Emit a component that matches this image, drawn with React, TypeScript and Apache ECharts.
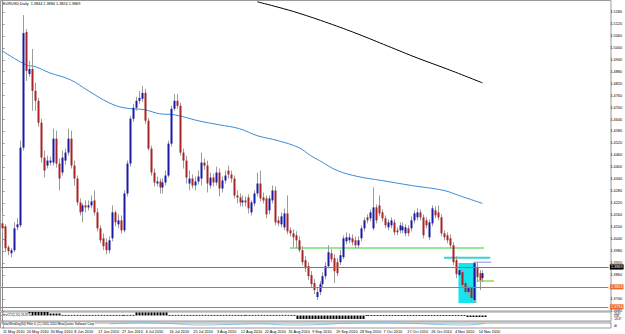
import React, { useEffect, useRef } from "react";
import * as echarts from "echarts";

const tickLabels = ["11 May 2010","20 May 2010","30 May 2010","8 Jun 2010","17 Jun 2010","27 Jun 2010","6 Jul 2010","16 Jul 2010","25 Jul 2010","3 Aug 2010","12 Aug 2010","22 Aug 2010","31 Aug 2010","9 Sep 2010","19 Sep 2010","28 Sep 2010","7 Oct 2010","17 Oct 2010","26 Oct 2010","4 Nov 2010","14 Nov 2010"];
const SLOTS = 205;

const open = [1.4119,1.4104,1.3999,1.3969,1.3984,1.4099,1.4109,1.4499,1.5079,1.4869,
1.4894,1.4784,1.4734,1.4624,1.4449,1.4409,1.4424,1.4424,1.4544,1.4419,
1.4374,1.4434,1.4474,1.4544,1.4409,1.4344,1.4224,1.4179,1.4209,1.4199,
1.4209,1.4234,1.4174,1.4094,1.4044,1.4024,1.3984,1.4044,1.4174,1.4114,
1.4134,1.4084,1.4269,1.4419,1.4644,1.4699,1.4734,1.4744,1.4774,1.4634,
1.4494,1.4374,1.4319,1.4329,1.4299,1.4324,1.4359,1.4519,1.4694,1.4734,
1.4709,1.4474,1.4434,1.4319,1.4344,1.4309,1.4329,1.4344,1.4424,1.4409,
1.4309,1.4349,1.4324,1.4374,1.4294,1.4334,1.4384,1.4364,1.4344,1.4259,
1.4249,1.4224,1.4234,1.4249,1.4174,1.4219,1.4269,1.4319,1.4249,1.4244,
1.4184,1.4234,1.4284,1.4134,1.4114,1.4099,1.4169,1.4084,1.4069,1.4059,
1.4034,1.3984,1.3934,1.3904,1.3859,1.3819,1.3749,1.3774,1.3814,1.3854,
1.3904,1.3969,1.3944,1.3924,1.3924,1.3949,1.4029,1.4034,1.4044,1.4034,
1.4009,1.4044,1.4094,1.4149,1.4144,1.4094,1.4199,1.4209,1.4174,1.4144,
1.4099,1.4109,1.4124,1.4084,1.4084,1.4084,1.4069,1.4094,1.4094,1.4134,
1.4149,1.4174,1.4149,1.4134,1.4049,1.4119,1.4184,1.4174,1.4149,1.4069,
1.4059,1.4044,1.4009,1.3934,1.3859,1.3874,1.3819,1.3774,1.3794,1.3734,
1.3894,1.3869,1.3844];
const close = [1.4094,1.3994,1.3979,1.3984,1.4094,1.4114,1.4499,1.5074,1.4884,1.4894,
1.4784,1.4734,1.4624,1.4449,1.4384,1.4434,1.4434,1.4544,1.4419,1.4344,
1.4449,1.4474,1.4544,1.4409,1.4344,1.4224,1.4174,1.4209,1.4199,1.4209,
1.4229,1.4174,1.4094,1.4034,1.4004,1.3984,1.4034,1.4174,1.4124,1.4134,
1.4084,1.4269,1.4419,1.4644,1.4699,1.4734,1.4749,1.4774,1.4634,1.4494,
1.4374,1.4324,1.4329,1.4299,1.4324,1.4359,1.4519,1.4694,1.4734,1.4709,
1.4474,1.4434,1.4349,1.4344,1.4309,1.4329,1.4354,1.4424,1.4409,1.4319,
1.4349,1.4324,1.4374,1.4294,1.4334,1.4359,1.4364,1.4344,1.4259,1.4249,
1.4224,1.4234,1.4224,1.4194,1.4224,1.4269,1.4319,1.4244,1.4234,1.4164,
1.4244,1.4284,1.4124,1.4119,1.4154,1.4169,1.4079,1.4069,1.4049,1.4034,
1.3984,1.3924,1.3894,1.3854,1.3814,1.3784,1.3774,1.3814,1.3854,1.3904,
1.3974,1.3939,1.3879,1.3869,1.3959,1.4044,1.4049,1.4049,1.4024,1.4009,
1.4034,1.4094,1.4134,1.4134,1.4174,1.4199,1.4134,1.4169,1.4144,1.4109,
1.4124,1.4134,1.4074,1.4074,1.4109,1.4104,1.4099,1.4069,1.4134,1.4169,
1.4174,1.4149,1.4059,1.4109,1.4124,1.4194,1.4159,1.4149,1.4069,1.4049,
1.4034,1.4009,1.3924,1.3864,1.3884,1.3809,1.3774,1.3794,1.3744,1.3919,
1.3849,1.3834,1.3869];
const high = [1.4164,1.4114,1.4009,1.3994,1.4124,1.4144,1.4534,1.5164,1.5094,1.4934,
1.4994,1.4824,1.4749,1.4644,1.4484,1.4459,1.4454,1.4594,1.4584,1.4444,
1.4484,1.4494,1.4594,1.4584,1.4434,1.4359,1.4244,1.4219,1.4234,1.4234,
1.4259,1.4284,1.4194,1.4109,1.4069,1.4044,1.4054,1.4209,1.4184,1.4164,
1.4159,1.4284,1.4434,1.4659,1.4719,1.4754,1.4784,1.4809,1.4794,1.4649,
1.4509,1.4394,1.4354,1.4344,1.4344,1.4384,1.4534,1.4709,1.4769,1.4769,
1.4724,1.4494,1.4459,1.4384,1.4364,1.4354,1.4384,1.4474,1.4444,1.4434,
1.4374,1.4369,1.4404,1.4394,1.4354,1.4384,1.4409,1.4384,1.4359,1.4284,
1.4269,1.4259,1.4254,1.4264,1.4234,1.4284,1.4374,1.4384,1.4274,1.4259,
1.4259,1.4309,1.4304,1.4154,1.4174,1.4194,1.4259,1.4099,1.4089,1.4079,
1.4054,1.4004,1.3954,1.3924,1.3879,1.3839,1.3794,1.3829,1.3874,1.3924,
1.4009,1.3989,1.3964,1.3944,1.3984,1.4059,1.4074,1.4069,1.4064,1.4054,
1.4054,1.4109,1.4149,1.4164,1.4189,1.4299,1.4214,1.4259,1.4189,1.4159,
1.4139,1.4149,1.4139,1.4099,1.4124,1.4124,1.4114,1.4109,1.4154,1.4184,
1.4194,1.4189,1.4164,1.4149,1.4139,1.4209,1.4204,1.4209,1.4164,1.4084,
1.4074,1.4064,1.4024,1.3954,1.3904,1.3889,1.3834,1.3809,1.3809,1.3924,
1.3924,1.3884,1.3884];
const low = [1.4074,1.3974,1.3959,1.3949,1.3974,1.4084,1.4099,1.4484,1.4834,1.4854,
1.4684,1.4684,1.4604,1.4424,1.4349,1.4394,1.4409,1.4409,1.4399,1.4284,
1.4359,1.4414,1.4459,1.4394,1.4309,1.4209,1.4159,1.4124,1.4174,1.4184,
1.4194,1.4159,1.4079,1.4019,1.3984,1.3964,1.3969,1.4029,1.4104,1.4094,
1.4069,1.4074,1.4254,1.4404,1.4629,1.4684,1.4719,1.4729,1.4619,1.4484,
1.4359,1.4304,1.4304,1.4269,1.4269,1.4309,1.4349,1.4504,1.4684,1.4694,
1.4459,1.4394,1.4319,1.4284,1.4294,1.4284,1.4314,1.4309,1.4389,1.4274,
1.4294,1.4304,1.4309,1.4254,1.4274,1.4319,1.4344,1.4324,1.4244,1.4219,
1.4204,1.4204,1.4204,1.4169,1.4159,1.4204,1.4254,1.4229,1.4219,1.4144,
1.4164,1.4219,1.4109,1.4104,1.4099,1.4084,1.4064,1.4054,1.3999,1.3994,
1.3974,1.3909,1.3874,1.3834,1.3799,1.3764,1.3734,1.3759,1.3799,1.3839,
1.3894,1.3924,1.3819,1.3854,1.3909,1.3939,1.4014,1.4019,1.4009,1.3994,
1.3994,1.4029,1.4079,1.4119,1.4129,1.4084,1.4119,1.4154,1.4129,1.4094,
1.4084,1.4094,1.4059,1.4059,1.4069,1.4069,1.4054,1.4054,1.4079,1.4119,
1.4134,1.4134,1.4044,1.4094,1.4034,1.4104,1.4144,1.4134,1.4054,1.4034,
1.4019,1.3994,1.3909,1.3844,1.3844,1.3794,1.3759,1.3754,1.3724,1.3719,
1.3824,1.3784,1.3824];

const maBlueIdx = [0,8,11,16,23,29,36,41,48,53,58,66,73,80,86,93,100,104,107,113,120,128,138,149,154,162];
const maBlueVal = [1.4984,1.4914,1.4906,1.4874,1.4839,1.4784,1.4724,1.4699,1.4689,1.4669,1.4664,1.4634,1.4614,1.4594,1.4559,1.4534,1.4499,1.4459,1.4434,1.4384,1.4354,1.4334,1.4309,1.4284,1.4259,1.4219];
const maBlackIdx = [86,93,100,110,120,130,140,150,162];
const maBlackVal = [1.5231,1.5204,1.5174,1.5124,1.5069,1.5009,1.4949,1.4894,1.4824];

// EnvCCI histogram (one value per bar)
const envCci = [0.5,0.5,0.5,0.5,0.5,0.5,0.5,0.5,0.5,
3.5,3.5,3.5,3.5,3.5,3.5,3.5,
2,2,2,2,
0.6,0.6,0.6,0.6,0.6,0.6,0.6,0.6,0.6,0.6,0.6,0.6,0.6,0.6,0.6,0.6,0.6,0.6,0.6,0.6,0.6,0.6,0.6,0.6,0.6,
3,3,3,3,3,3,3,3,3,3,3,
0.6,0.6,0.6,0.6,0.6,0.6,0.6,0.6,0.6,0.6,0.6,0.6,0.6,0.6,0.6,0.6,0.6,0.6,0.6,0.6,0.6,0.6,0.6,0.6,0.6,0.6,0.6,0.6,0.6,0.6,0.6,0.6,0.6,0.6,0.6,0.6,0.6,0.6,0.6,0.6,0.6,0.6,0.6,
-3.5,-3.5,-3.5,-3.5,-3.5,-3.5,-3.5,-3.5,-3.5,-3.5,-3.5,-3.5,-3.5,-3.5,-3.5,-3.5,-3.5,-3.5,-3.5,-3.5,-3.5,-3.5,-3.5,
0.4,0.4,0.4,0.4,0.4,0.4,0.4,0.4,0.4,0.4,0.4,0.4,0.4,0.4,0.4,0.4,0.4,0.4,0.4,0.4,0.4,0.4,0.4,0.4,0.4,0.4,0.4,0.4,
0.4,0.4,0.4,0.4,0.4,0.4,
-1.5,-1.5,-1.5,-1.5,-1.5,-1.5,-1.5];

// Solar wind line in the bottom window (bar index, value 0-100)
const windIdx = [36,46,56,66,76,86,97,107,117,127,137,147,155,162];
const windVal = [67,88,75,50,58,67,50,58,83,87,78,58,50,75];

const orangeLevels = [1.3944, 1.3824, 1.3734];
const bidLevel = 1.3869;
const greenLine = { from: 97, to: 162.5, price: 1.3995 };
const cyanLine = { from: 149, to: 164.6, price: 1.3946 };
const purpleLine = { from: 158.9, to: 165, price: 1.3924 };
const limeLine = { from: 160.2, to: 165.9, price: 1.3829 };
const cyanBox = { from: 153.9, to: 159.9, top: 1.3920, bottom: 1.3719 };

const titleText = "EURUSD,Daily  1.3844 1.3884 1.3824 1.3869";

const BLUE = "#1a1aa6";
const RED = "#a82424";
const FS = 3.8;
const FONT = "Liberation Sans";

export default function App() {
  const ref = useRef<HTMLDivElement>(null);
  useEffect(() => {
    if (!ref.current) return;
    const chart = echarts.init(ref.current, undefined, { renderer: "svg" });
    const candles = open.map((o, i) => [i, o, close[i], low[i], high[i]]);
    const cats = Array.from({ length: SLOTS }, (_, i) => String(i));
    const seg = (s: { from: number; to: number; price: number }) => [[s.from, s.price], [s.to, s.price]];
    const grids = [
      { left: 1, right: 14, top: -1.2, height: 312 },
      { left: 1, right: 14, top: 312, height: 9 },
      { left: 1, right: 14, top: 322, height: 6 },
    ];
    const option: any = {
      animation: false,
      backgroundColor: "#ffffff",
      textStyle: { fontFamily: FONT },
      grid: grids,
      xAxis: [
        { type: "value", gridIndex: 0, min: -0.5, max: SLOTS - 0.5, show: false },
        { type: "value", gridIndex: 1, min: -0.5, max: SLOTS - 0.5, show: false },
        {
          type: "category", gridIndex: 2, data: cats, boundaryGap: true,
          axisLine: { show: false },
          axisTick: { show: false },
          axisLabel: {
            interval: (i: number) => i % 8 === 0 && i / 8 < tickLabels.length,
            formatter: (_v: string, i: number) => tickLabels[i / 8] || "",
            fontSize: FS, color: "#000", margin: 1.5, align: "left", fontFamily: FONT,
          },
        },
        { type: "value", gridIndex: 2, min: -0.5, max: SLOTS - 0.5, show: false },
      ],
      yAxis: [
        {
          type: "value", gridIndex: 0, position: "right", min: 1.368, max: 1.524, interval: 0.006,
          splitLine: { show: false },
          axisLine: { show: true, lineStyle: { color: "#8c8c8c" } },
          axisTick: { show: true, length: 2, lineStyle: { color: "#8c8c8c" } },
          axisLabel: { showMaxLabel: false, fontSize: FS, color: "#000", margin: 2, fontFamily: FONT, formatter: (v: number) => v.toFixed(4) },
        },
        { type: "value", gridIndex: 1, position: "right", min: -5.5, max: 3.5, axisLine: { show: true, lineStyle: { color: "#8c8c8c" } }, axisLabel: { show: false }, axisTick: { show: false }, splitLine: { show: false } },
        { type: "value", gridIndex: 2, position: "right", min: 0, max: 100, axisLine: { show: true, lineStyle: { color: "#8c8c8c" } }, axisLabel: { show: false }, axisTick: { show: false }, splitLine: { show: false } },
      ],
      series: [
        {
          type: "line", xAxisIndex: 0, yAxisIndex: 0, data: [], silent: true,
          markLine: {
            symbol: "none", silent: true,
            data: [
              ...orangeLevels.map((p) => ({ yAxis: p, lineStyle: { color: "#e06a2c", width: 1, type: "solid" }, label: { show: true, position: "end", distance: 1.5, formatter: p.toFixed(4), color: "#ffffff", backgroundColor: "#e86a2c", fontSize: FS, padding: [0.5, 1], fontFamily: FONT } })),
              { yAxis: bidLevel, lineStyle: { color: "#7a7a7a", width: 1, type: "solid" }, label: { show: true, position: "end", distance: 1.5, formatter: bidLevel.toFixed(4), color: "#ffffff", backgroundColor: "#000000", fontSize: FS, padding: [0.5, 1], fontFamily: FONT } },
            ],
          },
          markArea: {
            silent: true,
            itemStyle: { color: "#18e4ee", opacity: 1 },
            data: [[{ xAxis: cyanBox.from, yAxis: cyanBox.top }, { xAxis: cyanBox.to, yAxis: cyanBox.bottom }]],
          },
          z: 1,
        },
        { type: "line", xAxisIndex: 0, yAxisIndex: 0, data: seg(greenLine), symbol: "none", lineStyle: { color: "#96e896", width: 2 }, z: 2 },
        { type: "line", xAxisIndex: 0, yAxisIndex: 0, data: seg(cyanLine), symbol: "none", lineStyle: { color: "#3ccfd6", width: 2 }, z: 2 },
        { type: "line", xAxisIndex: 0, yAxisIndex: 0, data: seg(purpleLine), symbol: "none", lineStyle: { color: "#8a8af0", width: 1 }, z: 2 },
        { type: "line", xAxisIndex: 0, yAxisIndex: 0, data: seg(limeLine), symbol: "none", lineStyle: { color: "#b4e07c", width: 2 }, z: 2 },
        {
          type: "line", xAxisIndex: 0, yAxisIndex: 0, symbol: "none", smooth: 0.4,
          data: maBlueIdx.map((x, k) => [x, maBlueVal[k]]), lineStyle: { color: "#3a8cd6", width: 1 }, z: 3,
        },
        {
          type: "line", xAxisIndex: 0, yAxisIndex: 0, symbol: "none", smooth: 0.4,
          data: maBlackIdx.map((x, k) => [x, maBlackVal[k]]), lineStyle: { color: "#000000", width: 1 }, z: 3,
        },
        {
          type: "custom", xAxisIndex: 0, yAxisIndex: 0, data: candles, z: 4,
          encode: { x: 0, y: [1, 2, 3, 4] },
          renderItem: (_p: any, api: any) => {
            const i = api.value(0), o = api.value(1), c = api.value(2), l = api.value(3), h = api.value(4);
            const po = api.coord([i, o]), pc = api.coord([i, c]), ph = api.coord([i, h]), pl = api.coord([i, l]);
            const x = Math.round(po[0]) + 0.5;
            const top = Math.min(po[1], pc[1]);
            const bh = Math.max(1, Math.abs(po[1] - pc[1]));
            return {
              type: "group",
              children: [
                { type: "line", shape: { x1: x, y1: ph[1], x2: x, y2: pl[1] }, style: { stroke: "#9c9c9c", lineWidth: 1 } },
                { type: "rect", shape: { x: x - 1, y: top, width: 2, height: bh }, style: { fill: c >= o ? BLUE : RED } },
              ],
            };
          },
        },
        {
          type: "custom", xAxisIndex: 1, yAxisIndex: 1, data: envCci.map((v, i) => [i, v]), z: 4,
          encode: { x: 0, y: 1 },
          renderItem: (_p: any, api: any) => {
            const i = api.value(0), v = api.value(1);
            const p0 = api.coord([i, 0]), p1 = api.coord([i, v]);
            const x = Math.round(p0[0]) - 0.5;
            return { type: "rect", shape: { x, y: Math.min(p0[1], p1[1]), width: 2, height: Math.max(0.8, Math.abs(p1[1] - p0[1])) }, style: { fill: "#000000" } };
          },
        },
        {
          type: "line", xAxisIndex: 3, yAxisIndex: 2, symbol: "none", smooth: 0.5,
          data: windIdx.map((x, k) => [x, windVal[k]]), lineStyle: { color: "#8fc0e6", width: 1 }, z: 3,
          markLine: { symbol: "none", silent: true, label: { show: false }, lineStyle: { color: "#9a9a9a", type: [1, 1], width: 1 }, data: [{ yAxis: 80 }] },
        },
        { type: "line", xAxisIndex: 2, yAxisIndex: 2, data: [], silent: true },
      ],
      graphic: [
        { type: "rect", shape: { x: 0.5, y: 0.5, width: 610.5, height: 310.5 }, style: { fill: "none", stroke: "#9a9a9a", lineWidth: 1 }, silent: true },
        { type: "rect", shape: { x: 0.5, y: 312, width: 610.5, height: 9 }, style: { fill: "none", stroke: "#9a9a9a", lineWidth: 1 }, silent: true },
        { type: "rect", shape: { x: 0.5, y: 322, width: 610.5, height: 6 }, style: { fill: "none", stroke: "#9a9a9a", lineWidth: 1 }, silent: true },
        { type: "text", x: 3, y: 2, style: { text: titleText, fontSize: FS, fill: "#000", fontFamily: FONT } },
        { type: "text", x: 2, y: 313, style: { text: "EnvCCI(1,20) 26.8734", fontSize: 3, fill: "#000", backgroundColor: "#ffffff", fontFamily: FONT }, z: 10 },
        { type: "text", x: 2, y: 322.6, style: { text: "SolarWindJoy(60) Filler 4, (C) 2001-2010 MetaQuotes Software Corp.", fontSize: 3, fill: "#000", backgroundColor: "#ffffff", fontFamily: FONT }, z: 10 },
        { type: "text", x: 614, y: 312.5, style: { text: "26.87", fontSize: 2.6, fill: "#000", fontFamily: FONT } },
        { type: "text", x: 614, y: 315.2, style: { text: "0.00", fontSize: 2.6, fill: "#000", fontFamily: FONT } },
        { type: "text", x: 614, y: 317.9, style: { text: "-26.87", fontSize: 2.6, fill: "#000", fontFamily: FONT } },
        { type: "text", x: 614, y: 324, style: { text: "⊞", fontSize: 3.5, fill: "#000", fontFamily: "DejaVu Sans" } },
      ],
    };
    chart.setOption(option);
    return () => chart.dispose();
  }, []);
  return <div ref={ref} style={{ width: 625, height: 334, position: "absolute", left: 0, top: 0 }} />;
}
